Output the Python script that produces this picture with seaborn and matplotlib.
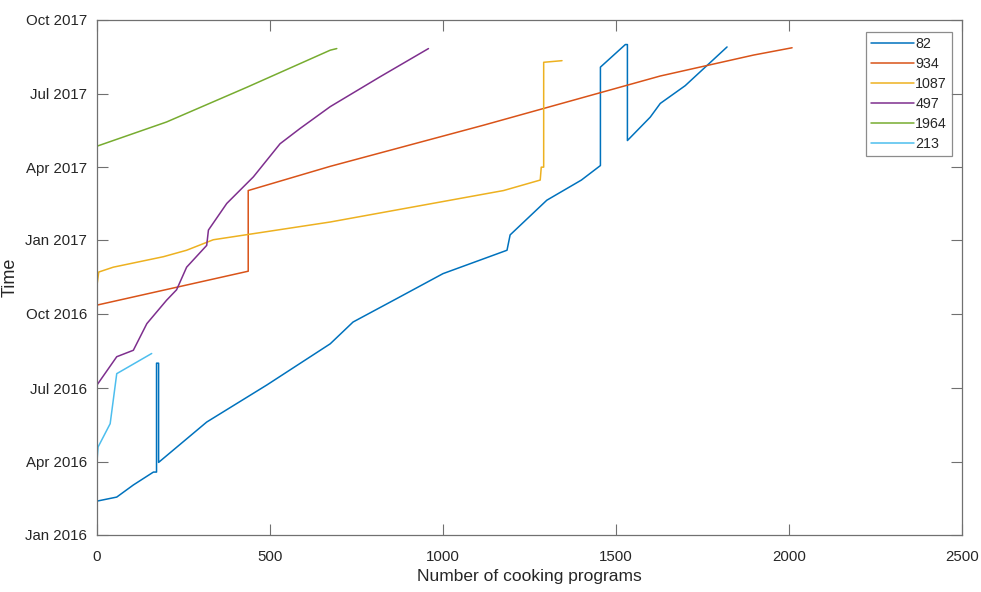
import matplotlib
matplotlib.use("Agg")
import matplotlib.pyplot as plt
import matplotlib.dates as mdates
import seaborn as sns
import pandas as pd

# ---- data ----
series_names = ["82", "934", "1087", "497", "1964", "213"]

x_82 = [0, 57, 105, 163, 172, 172, 178, 178, 317, 491, 674, 740, 866, 1000,
        1185, 1194, 1300, 1400, 1455, 1455, 1527, 1533, 1533, 1599, 1628, 1700, 1821]
t_82 = ["2016-02-12", "2016-02-17", "2016-03-03", "2016-03-19", "2016-03-19", "2016-08-01",
        "2016-08-01", "2016-03-31", "2016-05-20", "2016-07-05", "2016-08-25", "2016-09-21",
        "2016-10-20", "2016-11-20", "2016-12-19", "2017-01-07", "2017-02-19", "2017-03-16",
        "2017-04-03", "2017-08-03", "2017-08-31", "2017-08-31", "2017-05-04", "2017-06-02",
        "2017-06-19", "2017-07-11", "2017-08-28"]

x_934 = [0, 437, 437, 674, 1117, 1628, 1898, 2009]
t_934 = ["2016-10-12", "2016-11-23", "2017-03-03", "2017-04-02", "2017-05-23",
         "2017-07-23", "2017-08-18", "2017-08-27"]

x_1087 = [0, 5, 47, 192, 259, 336, 674, 1175, 1281, 1284, 1291, 1291, 1344]
t_1087 = ["2016-11-06", "2016-11-22", "2016-11-28", "2016-12-11", "2016-12-19",
          "2017-01-01", "2017-01-23", "2017-03-03", "2017-03-16", "2017-04-01",
          "2017-04-01", "2017-08-09", "2017-08-11"]

x_497 = [0, 57, 105, 144, 201, 230, 259, 317, 322, 375, 452, 529, 587, 674, 818, 958]
t_497 = ["2016-07-05", "2016-08-09", "2016-08-17", "2016-09-19", "2016-10-18",
         "2016-10-31", "2016-11-28", "2016-12-25", "2017-01-13", "2017-02-15",
         "2017-03-20", "2017-04-30", "2017-05-19", "2017-06-15", "2017-07-22", "2017-08-26"]

x_1964 = [0, 201, 433, 674, 693]
t_1964 = ["2017-04-27", "2017-05-27", "2017-07-09", "2017-08-24", "2017-08-26"]

x_213 = [0, 3, 38, 57, 158]
t_213 = ["2016-04-02", "2016-04-19", "2016-05-18", "2016-07-19", "2016-08-13"]

y_ticks = ["2016-01-01", "2016-04-01", "2016-07-01", "2016-10-01",
           "2017-01-01", "2017-04-01", "2017-07-01", "2017-10-01"]
x_ticks = [0, 500, 1000, 1500, 2000, 2500]

colors = ["#0072BD", "#D95319", "#EDB120", "#7E2F8E", "#77AC30", "#4DBEEE"]

# ---- build long table ----
xs = [x_82, x_934, x_1087, x_497, x_1964, x_213]
ts = [t_82, t_934, t_1087, t_497, t_1964, t_213]
frames = []
for name, xv, tv in zip(series_names, xs, ts):
    d = pd.DataFrame({"programs": xv,
                      "time": mdates.date2num(pd.to_datetime(tv).to_pydatetime())})
    d["series"] = name
    frames.append(d)
df = pd.concat(frames, ignore_index=True)

sns.set_style("white")
plt.rcParams["font.family"] = ["Liberation Sans", "DejaVu Sans"]

fig = plt.figure(figsize=(9.81, 5.92), dpi=100)
ax = fig.add_axes([0.0989, 0.0963, 0.8817, 0.8707])

sns.lineplot(data=df, x="programs", y="time", hue="series", hue_order=series_names,
             palette=colors, sort=False, estimator=None, units="series",
             linewidth=1.1, ax=ax, legend=True)

axis_col = "#707070"
ax.set_xlim(0, 2500)
ymin = mdates.date2num(pd.Timestamp(y_ticks[0]).to_pydatetime())
ymax = mdates.date2num(pd.Timestamp(y_ticks[-1]).to_pydatetime())
ax.set_ylim(ymin, ymax)
ax.set_xticks(x_ticks)
ax.set_yticks([mdates.date2num(pd.Timestamp(t).to_pydatetime()) for t in y_ticks])
ax.yaxis.set_major_formatter(mdates.DateFormatter("%b %Y"))

for s in ax.spines.values():
    s.set_visible(True)
    s.set_color(axis_col)
    s.set_linewidth(0.9)
ax.tick_params(axis="both", direction="in", length=8, width=0.8, color=axis_col,
               labelsize=10.8, labelcolor="#262626", top=True, right=True,
               left=True, bottom=True)
ax.tick_params(axis="x", pad=11)
ax.tick_params(axis="y", pad=7)

ax.set_xlabel("Number of cooking programs", fontsize=12.5, color="#262626")
ax.set_ylabel("Time", fontsize=13, color="#262626")
ax.xaxis.set_label_coords(0.5, -0.066)
ax.yaxis.set_label_coords(-0.091, 0.5)

handles, labels = ax.get_legend_handles_labels()
leg = ax.legend(handles, labels, loc="upper right", bbox_to_anchor=(0.9885, 0.976),
                fontsize=10.3, frameon=True, fancybox=False, handlelength=3.0,
                handletextpad=0.1, labelspacing=0.42, borderpad=0.35,
                borderaxespad=0)
leg.get_frame().set_edgecolor(axis_col)
leg.get_frame().set_linewidth(0.9)
for line in leg.get_lines():
    line.set_linewidth(1.1)

fig.savefig("out.png", dpi=100)
